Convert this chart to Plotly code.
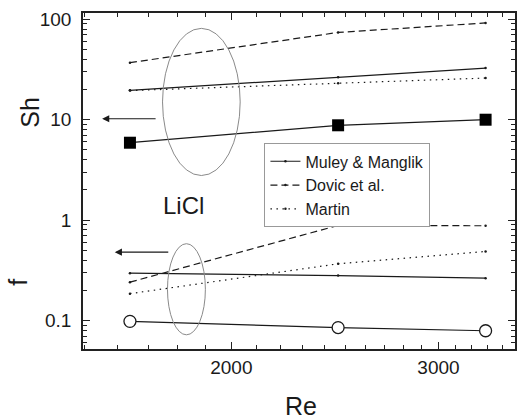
import numpy as np
import plotly.graph_objects as go

# ---- data ----
re = [1640, 2465, 3290]
sh_exp = [5.9, 8.8, 10.0]
f_exp = [0.098, 0.085, 0.079]

sh_muley = [19.6, 26.5, 32.7]
sh_dovic = [37.0, 74.0, 92.0]
sh_martin = [19.5, 23.1, 26.0]

f_muley = [0.296, 0.280, 0.264]
f_dovic = [0.241, 0.885, 0.878]
f_martin = [0.185, 0.367, 0.487]

x_ticks = [2000, 3000]
y_ticks = [0.1, 1, 10, 100]
y_ticktext = ["0.1", "1", "10", "100"]

FONT = "Arial, Liberation Sans, sans-serif"
INK = "#1a1a1a"
AX = "#222"

X_RANGE = [np.log10(1496), np.log10(3485)]
Y_RANGE = [-1.284, 2.063]

fig = go.Figure()

corr = [
    ("Muley & Manglik", sh_muley, f_muley, "solid"),
    ("Dovic et al.", sh_dovic, f_dovic, "7px,4px"),
    ("Martin", sh_martin, f_martin, "1.5px,4.5px"),
]
for name, sh, f, dash in corr:
    for i, ys in enumerate((sh, f)):
        fig.add_trace(go.Scatter(
            x=re, y=ys, mode="lines+markers", name=name, legendgroup=name,
            showlegend=(i == 0),
            line=dict(color=INK, width=1.2, dash=dash),
            marker=dict(size=2.5, color=INK, symbol="circle"),
        ))

fig.add_trace(go.Scatter(
    x=re, y=sh_exp, mode="lines+markers", showlegend=False,
    line=dict(color=INK, width=1.2),
    marker=dict(symbol="square", size=12, color="black"),
))
fig.add_trace(go.Scatter(
    x=re, y=f_exp, mode="lines+markers", showlegend=False,
    line=dict(color=INK, width=1.2),
    marker=dict(symbol="circle", size=12, color="white",
                line=dict(color=INK, width=1.3)),
))

fig.update_xaxes(
    type="log", range=X_RANGE, tickmode="array", tickvals=x_ticks,
    ticktext=[str(v) for v in x_ticks],
    ticks="inside", ticklen=7, tickwidth=1.3, tickcolor=AX,
    showline=True, linewidth=1.5, linecolor=AX, mirror="allticks",
    tickfont=dict(family=FONT, size=19, color=INK),
    minor=dict(ticks="inside", ticklen=4, tickwidth=1.3, tickcolor=AX),
)
fig.update_yaxes(
    type="log", range=Y_RANGE, tickmode="array", tickvals=y_ticks,
    ticktext=y_ticktext,
    ticks="inside", ticklen=7, tickwidth=1.3, tickcolor=AX,
    showline=True, linewidth=1.5, linecolor=AX, mirror="allticks",
    showgrid=False, zeroline=False, ticklabelstandoff=6,
    tickfont=dict(family=FONT, size=19, color=INK),
    minor=dict(dtick="D1", ticks="inside", ticklen=4, tickwidth=1.3, tickcolor=AX),
)

# ellipses (data coordinates)
fig.add_shape(type="circle", xref="x", yref="y", x0=1748, x1=2035, y0=2.78, y1=81.3,
              line=dict(color="#8a8a8a", width=1))
fig.add_shape(type="circle", xref="x", yref="y", x0=1765, x1=1901, y0=0.072, y1=0.582,
              line=dict(color="#8a8a8a", width=1))

annotations = [
    # arrows (annotation coordinates on log axes are log10 values)
    dict(x=np.log10(1553), y=1.01, xref="x", yref="y", text="", showarrow=True,
         ax=55, ay=0, arrowhead=2, arrowsize=1.3, arrowwidth=1.1, arrowcolor=INK),
    dict(x=np.log10(1592), y=-0.319, xref="x", yref="y", text="", showarrow=True,
         ax=55, ay=0, arrowhead=2, arrowsize=1.3, arrowwidth=1.1, arrowcolor=INK),
    dict(x=np.log10(1822), y=np.log10(1.40), xref="x", yref="y", text="LiCl",
         showarrow=False, font=dict(family=FONT, size=24, color=INK)),
    dict(x=-0.122, y=0.704, xref="paper", yref="paper", text="Sh", textangle=-90,
         xanchor="center", yanchor="middle",
         showarrow=False, font=dict(family=FONT, size=25, color=INK)),
    dict(x=-0.150, y=0.198, xref="paper", yref="paper", text="f", textangle=-90,
         xanchor="center", yanchor="middle",
         showarrow=False, font=dict(family=FONT, size=25, color=INK)),
    dict(x=0.5046, y=-0.171, xref="paper", yref="paper", text="Re",
         xanchor="center", yanchor="middle",
         showarrow=False, font=dict(family=FONT, size=25, color=INK)),
]

fig.update_layout(
    width=523, height=419,
    margin=dict(l=83, r=6, t=13, b=70),
    paper_bgcolor="white", plot_bgcolor="white",
    font=dict(family=FONT, color=INK),
    annotations=annotations,
    legend=dict(
        x=0.42, y=0.612, xanchor="left", yanchor="top",
        bgcolor="white", bordercolor="#999", borderwidth=1,
        font=dict(family=FONT, size=16, color=INK),
        tracegroupgap=0, itemwidth=30,
    ),
)

fig.write_html("out.html")
